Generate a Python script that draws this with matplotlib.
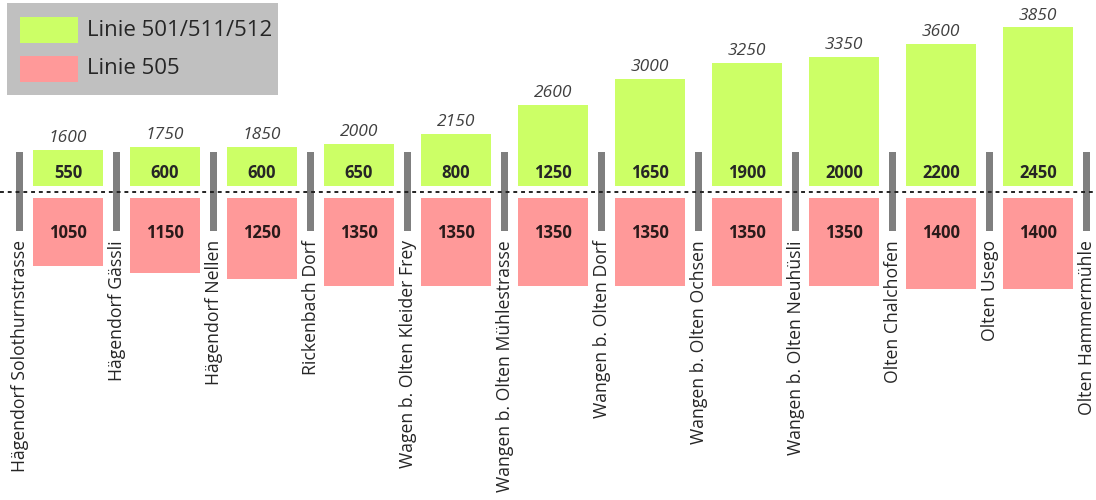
import matplotlib
matplotlib.use("Agg")
import matplotlib.pyplot as plt
from matplotlib.patches import Rectangle

plt.rcParams['font.family'] = ['Open Sans', 'DejaVu Sans']

stops = ["Hägendorf Solothurnstrasse", "Hägendorf Gässli", "Hägendorf Nellen",
         "Rickenbach Dorf", "Wagen b. Olten Kleider Frey", "Wangen b. Olten Mühlestrasse",
         "Wangen b. Olten Dorf", "Wangen b. Olten Ochsen", "Wangen b. Olten Neuhüsli",
         "Olten Chalchofen", "Olten Usego", "Olten Hammermühle"]
linie_501 = [550, 600, 600, 650, 800, 1250, 1650, 1900, 2000, 2200, 2450]
linie_505 = [1050, 1150, 1250, 1350, 1350, 1350, 1350, 1350, 1350, 1400, 1400]
totals = [1600, 1750, 1850, 2000, 2150, 2600, 3000, 3250, 3350, 3600, 3850]
series_names = ["Linie 501/511/512", "Linie 505"]

GREEN = "#ccff66"
RED = "#ff9999"
GRAY = "#7f7f7f"
GAP = 100

W, H = 1096, 500
fig = plt.figure(figsize=(W / 100, H / 100), dpi=100)
ax = fig.add_axes([0, 0, 1, 1])
ax.set_axis_off()

# pixel mapping: x_px = 68 + 97*x ; y_px = 192 - y/15.5
ax.set_xlim((0 - 68) / 97, (W - 68) / 97)
ax.set_ylim(-(H - 192) * 15.5, 192 * 15.5)

n = len(linie_501)
xs = list(range(n))
ax.bar(xs, linie_501, width=0.72, bottom=GAP, color=GREEN, zorder=2)
ax.bar(xs, [-v for v in linie_505], width=0.72, bottom=-GAP, color=RED, zorder=2)

for i in xs:
    ax.text(i, GAP + 200, str(linie_501[i]), ha='center', va='center',
            fontsize=12, fontweight='bold', color='#262626', zorder=3)
    ax.text(i, -GAP - 530, str(linie_505[i]), ha='center', va='center',
            fontsize=12, fontweight='bold', color='#2a1a1a', zorder=3)
    ax.text(i, GAP + linie_501[i] + 60, str(totals[i]), ha='center', va='bottom',
            fontsize=12.5, fontstyle='italic', color='#404040', zorder=3)

# stop markers
sx = [j - 0.505 for j in range(len(stops))]
ax.bar(sx, [620 + 605] * len(sx), width=0.072, bottom=-605, color=GRAY, zorder=1)
for j, name in enumerate(stops):
    ax.text(sx[j] + 0.01, -745, name, rotation=90, ha='center', va='top',
            fontsize=12.7, color='#262626')

# dashed zero line
ax.axhline(0, color='#222222', lw=1.4, ls=(0, (2.0, 2.0)), zorder=4)

# legend box (figure pixel coords)
def fx(px):
    return px / W

def fy(py):
    return 1 - py / H

fig.patches.append(Rectangle((fx(7), fy(95)), fx(278) - fx(7), fy(3) - fy(95),
                             transform=fig.transFigure, facecolor='#c0c0c0',
                             edgecolor='none', zorder=5))
for k, (col, cy) in enumerate([(GREEN, 30), (RED, 69)]):
    fig.patches.append(Rectangle((fx(20), fy(cy + 13)), fx(78) - fx(20), 26 / H,
                                 transform=fig.transFigure, facecolor=col,
                                 edgecolor='none', zorder=6))
    fig.text(fx(87), fy(cy), series_names[k], ha='left', va='center',
             fontsize=16, color='#262626', zorder=7)

fig.savefig("out.png", dpi=100)
